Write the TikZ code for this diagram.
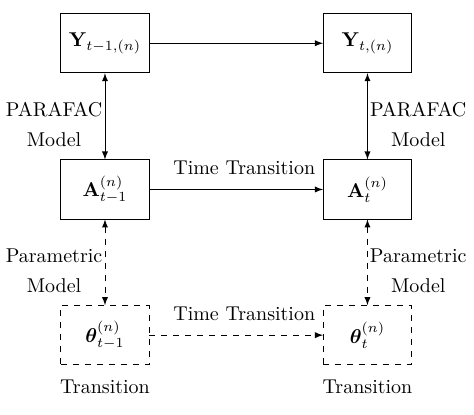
\documentclass[tikz,border=0pt]{standalone}
\usepackage{amsmath}
\usepackage{amssymb}
\tikzset{
	box/.style={draw, minimum width=1.55cm, minimum height=1.04cm},
	dashbox/.style={box, dashed},
	lbl/.style={align=center}
}
\begin{document}
\begin{tikzpicture}
		\useasboundingbox (0, 0) rectangle (8.33, 7.29);
		\node[box] (y0) at (1.845, 6.53) {$\mathbf{Y}_{t-1,(n)}$};
		\node[box] (y1) at (6.458, 6.53) {$\mathbf{Y}_{t,(n)}$};
		\node[box] (a0) at (1.845, 3.96) {$\mathbf{A}_{t-1}^{(n)}$};
		\node[box] (a1) at (6.458, 3.96) {$\mathbf{A}_{t}^{(n)}$};
		\node[dashbox] (th0) at (1.845, 1.40) {$\boldsymbol{\theta}_{t-1}^{(n)}$};
		\node[dashbox] (th1) at (6.458, 1.40) {$\boldsymbol{\theta}_{t}^{(n)}$};
		\draw[-latex] (y0) -- (y1);
		\draw[-latex] (a0) -- node[above=3.7pt, xshift=4pt]{Time Transition} (a1);
		\draw[-latex, dashed] (th0) -- node[above=3.7pt, xshift=4pt]{Time Transition} (th1);
		\draw[latex-latex] (y0) -- (a0);
		\draw[latex-latex] (y1) -- (a1);
		\draw[latex-latex, dashed] (a0) -- (th0);
		\draw[latex-latex, dashed] (a1) -- (th1);
		\node[lbl] (pl) at (0.95, 5.10) {PARAFAC\\[3pt]Model};
		\node[lbl] (pr) at (7.35, 5.10) {PARAFAC\\[3pt]Model};
		\node[lbl] (ml) at (0.95, 2.53) {Parametric\\[3pt]Model};
		\node[lbl] (mr) at (7.35, 2.53) {Parametric\\[3pt]Model};
		\node[below=4pt] (tl) at (th0.south) {Transition};
		\node[below=4pt] (tr) at (th1.south) {Transition};
	\end{tikzpicture}
\end{document}
